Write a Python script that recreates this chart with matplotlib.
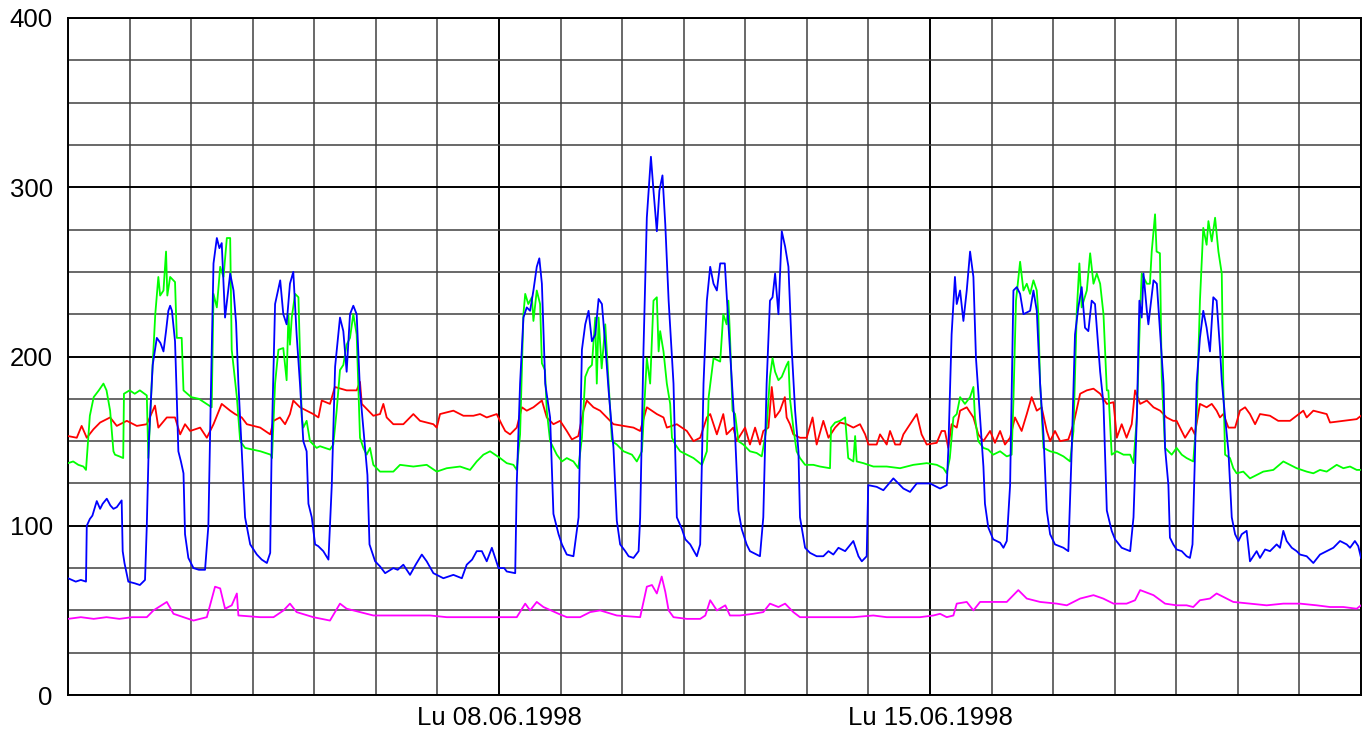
import matplotlib
matplotlib.use("Agg")
import matplotlib.pyplot as plt
from matplotlib.ticker import MultipleLocator, FixedLocator

plt.rcParams["font.family"] = ["Liberation Sans", "DejaVu Sans"]

# time axis: hours since Mon 01.06.1998 00:00 (three weeks)
week_ticks = [168, 336]
week_labels = ["Lu 08.06.1998", "Lu 15.06.1998"]

blue_hours = [
    0, 3, 5, 7, 7.3, 8.5, 9.5, 11.2, 12.5, 13.5, 15.1, 16.5, 17.7, 19, 20.9, 21.3, 22, 23.5, 26, 28,
    30, 30.7, 31.5, 33, 34.6, 36, 37.2, 38.2, 39.1, 39.8, 40.5, 41.7, 42.3, 43, 44, 45, 45.6, 46.9, 48.9, 51,
    53.4, 54.7, 55.7, 56.7, 58, 59, 59.9, 61.2, 63.2, 64.5, 65.5, 66.4, 67.7, 69, 71, 73.6, 75.5, 77.5, 78.8, 79.4,
    80.7, 82.7, 83.9, 85.2, 86.5, 87.8, 89.1, 90.4, 91.7, 93, 93.7, 95, 96.3, 97.5, 99.5, 101.5, 102.8, 104.1, 106, 107.3,
    108.6, 109.9, 111.2, 112.5, 113.8, 115.8, 116.7, 117.5, 119.7, 121.6, 123.6, 126.8, 128.5, 130.7, 133.3, 135.5, 137.9, 139.8, 142.4, 146.3,
    150.2, 153.5, 155.4, 157.5, 159.3, 161.3, 163.2, 165.2, 166.5, 167.8, 170, 171, 174.3, 174.9, 176.2, 177.5, 178.8, 180.1, 181.4, 182.7,
    183.7, 184.7, 186, 187.9, 189.2, 191.2, 192.5, 194.4, 197, 199, 200.3, 201.6, 202.9, 204.2, 205.5, 206.8, 208.1, 209.4, 210.7, 212.6,
    213.9, 215.2, 217.2, 218.5, 220.4, 222.4, 223, 224.3, 225.6, 227.2, 228.2, 229.5, 230.5, 231.7, 232.8, 234.1, 236, 237.3, 239.3, 240.6,
    242.5, 245.1, 246.4, 247.7, 249, 250.3, 251.6, 252.9, 254.2, 256, 256.7, 258, 260, 261.3, 262.6, 264.5, 265.8, 268.4, 269.7, 271,
    272.3, 273.6, 274.6, 275.6, 276.9, 278.2, 279.5, 280.8, 282.1, 283.4, 284.7, 285.3, 287.3, 289.2, 291.8, 294.4, 296.4, 298.3, 300.3, 302.9,
    306.1, 308.1, 309.4, 311.3, 311.9, 315.2, 317.8, 321.7, 325.6, 328.2, 330.8, 336, 339.9, 342.5, 343.1, 344.4, 345.7, 346.4, 347.7, 349,
    350.3, 351.6, 352.9, 353.9, 355.5, 356.8, 357.4, 358.7, 360.6, 363.3, 364.6, 365.9, 367.2, 368.5, 369.8, 371.1, 372.4, 375, 376.3, 377.6,
    378.9, 380.2, 381.5, 382.8, 384.7, 388, 389.9, 391.2, 392.5, 393.8, 395.1, 396.4, 397.7, 399, 400.3, 402.3, 403.6, 404.9, 406.8, 408.1,
    410.7, 414, 415.3, 416.6, 417.6, 418.5, 419.2, 420.5, 421.1, 423.1, 424.4, 425.7, 427, 427.6, 428.9, 429.5, 430.8, 432.1, 434.1, 436,
    437.3, 438.3, 439.3, 439.9, 441.2, 442.5, 443.8, 445.1, 446.4, 447.7, 449, 449.7, 451, 452.3, 453.6, 454.9, 456.2, 457.5, 459.4, 460.7,
    463.3, 464.6, 466.6, 468.5, 471.1, 472.4, 473.7, 475, 477, 478.9, 480.2, 482.8, 485.4, 488, 490.6, 493.2, 495.8, 498.4, 499.7, 501.6,
    502.9, 504,
]
blue_vals = [
    69, 67, 68, 67, 100, 104, 106, 114.6, 110, 113, 116, 112, 110, 111, 115, 85, 78, 67, 66, 65,
    68, 100, 150, 195, 211, 208, 203, 215, 227, 230, 227, 209, 180, 144, 138, 131, 95, 81, 75, 74,
    74, 100, 180, 255, 270, 264, 267, 223, 249, 239, 220, 184, 144, 105, 89, 83, 80, 78, 84, 150,
    231, 245, 225, 219, 243, 250, 213, 184, 150, 144, 113, 105, 89, 88, 85, 80, 124, 194, 223, 215,
    191, 225, 230, 225, 180, 146, 130, 89, 79, 76, 72, 75, 74, 77, 71, 77, 83, 79, 72, 69,
    71, 69, 77, 80, 85, 85, 79, 87, 81, 75, 75, 73, 72, 125, 184, 223, 229, 227, 239, 253,
    258, 243, 184, 164, 107, 95, 89, 83, 82, 105, 204, 219, 227, 209, 213, 234, 231, 207, 180, 146,
    103, 89, 85, 82, 81, 85, 105, 204, 282, 318, 298, 274, 298, 307, 278, 233, 184, 105, 98, 92,
    89, 82, 89, 184, 233, 253, 243, 239, 255, 255, 237, 204, 154, 109, 98, 89, 85, 83, 82, 105,
    184, 233, 235, 249, 225, 274, 265, 253, 204, 168, 144, 105, 87, 84, 82, 82, 85, 83, 87, 85,
    91, 82, 79, 82, 124, 123, 121, 128, 122, 120, 125, 125, 122, 124, 144, 213, 247, 231, 239, 221,
    239, 262, 247, 199, 164, 135, 113, 99, 92, 90, 87, 91, 124, 239, 241, 237, 225, 227, 239, 227,
    184, 154, 109, 95, 89, 87, 85, 144, 213, 229, 241, 217, 215, 233, 231, 191, 172, 109, 97, 92,
    87, 85, 105, 164, 233, 223, 249, 227, 219, 245, 243, 213, 184, 146, 124, 93, 89, 86, 85, 82,
    81, 89, 144, 184, 211, 227, 217, 203, 235, 233, 205, 186, 164, 144, 105, 95, 91, 95, 97, 79,
    85, 81, 86, 85, 89, 87, 97, 91, 87, 85, 83, 82, 78, 83, 85, 87, 91, 89, 87, 91,
    88, 81,
]

green_hours = [
    0, 2, 4, 6, 7, 8.5, 10, 12, 13.8, 15, 16.4, 17.7, 18.3, 20, 21.5, 21.8, 24, 26, 28, 30.7,
    31.3, 32.6, 34, 35.2, 35.9, 37.2, 38.2, 38.7, 39.8, 41.7, 42.4, 44.3, 45, 48, 51, 54, 56, 56.7, 58, 59.3,
    60.6, 61.9, 63.2, 63.8, 65.8, 67.1, 69, 72, 75, 79, 79.5, 80.7, 82, 83.9, 85.2, 85.9, 86.5, 87.2, 88.5, 89.8,
    90.4, 91.1, 91.7, 93, 94.3, 95.6, 96.9, 98.2, 102.1, 103.4, 104.7, 106, 107.3, 108.6, 109.9, 111.2, 112.5, 113.8, 115.1, 116.4,
    117.7, 119, 121.6, 124.2, 126.8, 129.4, 134.6, 139.8, 143.7, 147.6, 152.8, 156.7, 159.3, 161.9, 164.5, 168.4, 171, 173.6, 174.9, 176.2,
    177.5, 178.2, 179.4, 180.8, 181.4, 182.7, 184, 184.7, 185.9, 186.6, 187.9, 189.2, 190.5, 192.5, 194.4, 197, 198.9, 200.3, 201.6, 202.9,
    204.2, 205.5, 206.1, 206.8, 208, 209.4, 210.7, 212, 213.9, 216.5, 219.8, 221.7, 223.7, 225.6, 226.9, 228.2, 229.5, 230.2, 230.8, 232.1,
    233.4, 234.7, 235.4, 236.7, 238.6, 241.2, 243.8, 247.1, 249, 249.7, 251, 251.6, 254.2, 255.4, 256.7, 257.4, 258, 259, 260, 261.3,
    263.2, 264.5, 265.8, 268.4, 270.4, 272.3, 273.6, 274.6, 275.6, 276.9, 278.2, 280.1, 280.8, 281.4, 282.7, 284, 285.3, 287.3, 290.5, 293.1,
    297, 297.4, 299, 300.9, 302.9, 304.1, 306.1, 306.8, 307.4, 310, 313.9, 319.1, 324.3, 329.5, 334.7, 338.6, 341.2, 342.5, 343.7, 345.1,
    346.4, 347.7, 349.6, 351.6, 352.9, 353.5, 354.8, 356.8, 358.7, 360.6, 363.3, 365.9, 367.8, 368.5, 369.5, 371.1, 372.4, 373.7, 375, 376.3,
    377.6, 378.2, 378.9, 380.2, 382.8, 385.4, 388, 390.6, 391.9, 393.2, 394.2, 395.1, 397.1, 398.4, 399.7, 401, 402.3, 403.6, 404.9, 405.5,
    406.8, 408.8, 411.4, 414, 415.3, 416.6, 417.9, 418.5, 420.5, 421.7, 422.4, 423.7, 424.3, 425.6, 426.3, 427.6, 428.9, 430.2, 432.1, 434.1,
    436, 438.6, 439.9, 441.2, 442.5, 443.8, 444.5, 445.8, 447.1, 448.4, 449.7, 450.3, 451, 452.9, 454.2, 455.5, 458.1, 460.7, 463.3, 465.9,
    469.8, 473.7, 476.3, 478.9, 482.8, 485.4, 488, 490.6, 494.5, 497.1, 499.7, 502.3, 504,
]
green_vals = [
    137, 138, 136, 135, 133, 165, 176, 180, 184, 180, 168, 144, 142, 141, 140, 178, 180, 178, 180, 177,
    140, 184, 225, 247, 236, 239, 262, 236, 247, 244, 211, 211, 180, 176, 175, 172, 170, 237, 229, 253,
    247, 270, 270, 204, 176, 150, 146, 145, 144, 142, 140, 184, 204, 205, 186, 225, 207, 223, 237, 235,
    203, 164, 158, 162, 150, 148, 146, 147, 145, 148, 168, 192, 195, 207, 211, 225, 213, 152, 146, 142,
    146, 136, 132, 132, 132, 136, 135, 136, 132, 134, 135, 133, 138, 142, 144, 140, 137, 136, 133, 154,
    225, 237, 231, 235, 221, 239, 231, 196, 192, 168, 150, 146, 142, 138, 140, 138, 134, 152, 188, 193,
    195, 223, 184, 223, 193, 219, 184, 150, 148, 144, 142, 138, 144, 199, 184, 233, 235, 203, 215, 203,
    184, 172, 152, 148, 144, 142, 140, 136, 144, 176, 192, 199, 197, 225, 219, 233, 213, 168, 166, 150,
    148, 146, 144, 143, 141, 158, 188, 199, 191, 186, 188, 195, 197, 175, 158, 144, 140, 136, 136, 135,
    134, 158, 161, 162, 164, 140, 138, 153, 138, 137, 135, 135, 134, 136, 137, 136, 134, 131, 140, 164,
    166, 176, 172, 176, 182, 164, 150, 146, 145, 142, 144, 141, 142, 174, 233, 256, 239, 243, 237, 245,
    239, 225, 184, 146, 144, 143, 141, 138, 156, 227, 255, 229, 239, 261, 243, 249, 243, 225, 180, 180,
    142, 144, 142, 142, 137, 164, 227, 249, 243, 243, 262, 284, 262, 261, 188, 146, 144, 142, 146, 142,
    140, 138, 164, 233, 276, 266, 280, 268, 282, 262, 249, 184, 142, 140, 134, 131, 132, 128, 130, 132,
    133, 138, 136, 134, 132, 131, 133, 132, 136, 134, 135, 133, 133,
]

red_hours = [
    0, 3.4, 5.3, 7.3, 9.9, 12.5, 16.4, 19, 22.9, 26.8, 30.7, 33.9, 35.2, 38.5, 41.7, 43.7, 45.6, 47.6, 51.5, 54.1,
    56.7, 59.9, 63.2, 65.1, 67.7, 69.7, 74.9, 78.8, 80.1, 82.6, 84.6, 86.5, 87.8, 90.4, 93, 95.6, 97.6, 98.9, 102.1, 104,
    108.6, 112.5, 113.8, 114.5, 117.1, 119, 121.6, 122.9, 124.2, 126.8, 130.7, 134.6, 137.2, 142.4, 143.7, 145, 150.2, 154.1, 158, 160.6,
    163.2, 167.1, 169, 170.4, 172.3, 174.9, 176.9, 178.8, 181.4, 184.7, 186.6, 189.2, 191.8, 194.4, 196.4, 198.9, 200.9, 202.2, 204.8, 207.4,
    210, 212.6, 216.5, 220.4, 223, 225.6, 229.5, 232.1, 233.4, 237.3, 241.2, 243.8, 246.4, 249, 250.3, 252.9, 255.4, 256.7, 259.3, 260.6,
    263.9, 265.8, 267.8, 269.7, 271, 273, 274.3, 275.6, 277.5, 279.4, 280.1, 281.4, 282.7, 285.3, 287.9, 290.2, 291.8, 294.4, 296.4, 299,
    300.9, 303.5, 306.1, 308.7, 310.7, 312, 315.2, 316.5, 319.1, 320.4, 322.4, 324.3, 325.6, 328.2, 330.8, 332.7, 334.7, 338.6, 340.5, 341.8,
    343.1, 344.4, 346.4, 347.7, 350.3, 352.9, 354.8, 356.8, 359.4, 361.3, 363.3, 365.2, 367.2, 369.1, 371.7, 373.7, 375.6, 377.6, 379.5, 381.5,
    382.8, 384.7, 386.7, 389.9, 391.9, 394.5, 397.1, 399.7, 402.3, 404.9, 407.5, 408.8, 410.7, 412.6, 414.6, 415.9, 417.9, 420.5, 423.1, 425.7,
    428.2, 430.8, 432.1, 433.4, 435.4, 437.9, 439.2, 441.2, 443.8, 445.8, 447.7, 449, 450.3, 452.3, 454.9, 456.8, 458.8, 460.7, 462.7, 464.6,
    468.5, 471.7, 476.3, 481.5, 482.8, 485.4, 490.6, 491.9, 497.1, 502.3, 504,
]
red_vals = [
    153, 152, 159, 152, 157, 161, 164, 159, 162, 159, 160, 171, 158, 164, 164, 154, 160, 156, 158, 152,
    160, 172, 168, 166, 164, 160, 158, 154, 162, 164, 160, 166, 174, 170, 168, 166, 164, 174, 172, 182,
    180, 180, 185, 172, 168, 165, 166, 172, 164, 160, 160, 166, 162, 160, 158, 166, 168, 165, 165, 166,
    164, 166, 160, 156, 154, 158, 170, 168, 170, 174, 164, 160, 162, 156, 151, 153, 168, 174, 170, 168,
    164, 160, 159, 158, 156, 170, 166, 164, 158, 160, 156, 150, 152, 164, 166, 154, 166, 154, 158, 150,
    158, 148, 158, 148, 156, 158, 182, 164, 168, 176, 164, 160, 154, 152, 152, 164, 148, 162, 152, 158,
    161, 160, 158, 160, 154, 148, 148, 154, 148, 156, 148, 148, 154, 160, 166, 154, 148, 149, 156, 156,
    146, 160, 158, 168, 170, 164, 154, 150, 156, 149, 156, 148, 152, 164, 156, 166, 176, 168, 170, 156,
    150, 156, 150, 151, 160, 178, 180, 181, 178, 172, 173, 152, 160, 152, 160, 180, 172, 174, 170, 168,
    164, 162, 162, 158, 152, 158, 154, 172, 170, 172, 168, 164, 166, 158, 158, 168, 170, 166, 160, 166,
    165, 162, 162, 168, 164, 168, 166, 161, 162, 163, 165,
]

magenta_hours = [
    0, 5, 10, 15, 20, 25, 30.7, 33.3, 38.5, 41.1, 48.9, 54.1, 57.3, 59.3, 61.2, 63.8, 65.8, 66.4, 74.9, 80.1,
    84, 86.5, 89.1, 95.6, 102.1, 106, 108.6, 113.8, 119, 128.1, 141.1, 147.6, 160.6, 170.4, 174.9, 178.2, 180.1, 182.7, 185.3, 191.2,
    194.4, 199.6, 203.5, 207.4, 213.9, 223, 225.6, 227.6, 229.5, 231.4, 232.8, 234.1, 236, 241.2, 246.4, 248.4, 250.3, 252.9, 256.2, 258,
    261.9, 267.1, 271, 273.6, 276.9, 279.5, 282.7, 285.3, 289.2, 293.1, 299.6, 306.1, 313.9, 319.1, 325.6, 332.1, 337.3, 339.9, 342.5, 345.1,
    346.4, 350.3, 352.9, 355.5, 359.4, 365.9, 370.4, 373.7, 378.9, 385.4, 389.3, 394.5, 399.7, 403.5, 407.5, 412.6, 415.9, 417.9, 423.1, 427.6,
    432.1, 436, 438.6, 441.2, 445.1, 447.7, 450.3, 454.2, 460.7, 467.2, 473.7, 480.2, 486.7, 491.9, 497.1, 502.3, 504,
]
magenta_vals = [
    45, 46, 45, 46, 45, 46, 46, 50, 55, 48, 44, 46, 64, 63, 51, 53, 60, 47, 46, 46,
    50, 54, 49, 46, 44, 54, 51, 49, 47, 47, 47, 46, 46, 46, 46, 54, 50, 55, 52, 48,
    46, 46, 49, 50, 47, 46, 64, 65, 60, 70, 61, 50, 46, 45, 45, 47, 56, 50, 53, 47,
    47, 48, 49, 54, 52, 54, 49, 46, 46, 46, 46, 46, 47, 46, 46, 46, 47, 48, 46, 47,
    54, 55, 50, 55, 55, 55, 62, 57, 55, 54, 53, 57, 59, 57, 54, 54, 56, 62, 59, 54,
    53, 53, 52, 56, 57, 60, 58, 55, 54, 53, 54, 54, 53, 52, 52, 51, 53,
]


def main():
    fig = plt.figure(figsize=(13.69, 7.31), dpi=100)
    ax = fig.add_axes([0.0497, 0.0492, 0.9445, 0.9262])

    ax.plot(red_hours, red_vals, color="#ff0000", lw=1.3, zorder=3)
    ax.plot(green_hours, green_vals, color="#00ff00", lw=1.3, zorder=3)
    ax.plot(blue_hours, blue_vals, color="#0000ff", lw=1.3, zorder=4)
    ax.plot(magenta_hours, magenta_vals, color="#ff00ff", lw=1.3, zorder=3)

    ax.set_xlim(0, 504)
    ax.set_ylim(0, 400)

    ax.yaxis.set_major_locator(MultipleLocator(100))
    ax.yaxis.set_minor_locator(MultipleLocator(25))
    ax.xaxis.set_major_locator(FixedLocator(week_ticks))
    ax.xaxis.set_minor_locator(MultipleLocator(24))
    ax.set_xticklabels(week_labels)

    ax.grid(which="major", color="black", lw=1.4, zorder=1)
    ax.grid(which="minor", color="#404040", lw=1.1, zorder=1)
    ax.set_axisbelow(True)

    ax.tick_params(which="both", length=0, labelsize=18.5)
    ax.tick_params(axis="y", pad=11)
    ax.tick_params(axis="x", pad=8)
    for s in ax.spines.values():
        s.set_color("black")
        s.set_linewidth(1.4)

    fig.savefig("out.png", dpi=100)


if __name__ == "__main__":
    main()
